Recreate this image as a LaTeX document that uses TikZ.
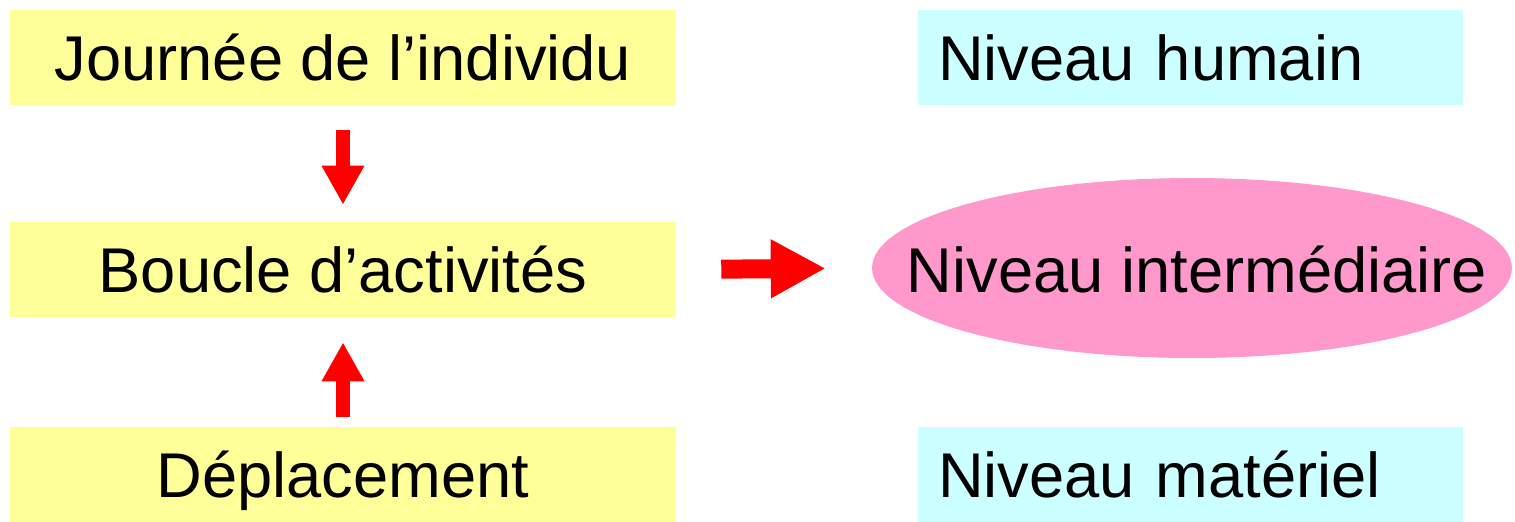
\documentclass[tikz,border=0pt]{standalone}
\usepackage{fontspec}
\setmainfont{Liberation Sans}
\usetikzlibrary{shapes.geometric,arrows.meta}
\definecolor{boxyellow}{HTML}{FFFF99}
\definecolor{boxcyan}{HTML}{CCFFFF}
\definecolor{ovalpink}{HTML}{FF99CC}
\tikzset{
  lbl/.style={font=\fontsize{36pt}{43pt}\selectfont, text height=25.8pt, text depth=0pt},
  stagebox/.style={lbl, rectangle, fill=boxyellow, inner sep=0pt,
    minimum width=13.32cm, minimum height=1.9cm},
  levelbox/.style={lbl, rectangle, fill=boxcyan, inner xsep=0.4cm, inner ysep=0pt,
    text width=10.1cm, align=left, minimum height=1.9cm},
  leveloval/.style={ellipse, fill=ovalpink, inner sep=0pt,
    minimum width=12.8cm, minimum height=3.6cm},
  vblock/.style={red, line width=0.28cm, line cap=butt,
    -{Triangle[length=0.78cm, width=0.8cm]}},
  hblock/.style={red, line width=0.38cm, line cap=butt,
    -{Triangle[length=1.1cm, width=1.1cm]}}
}
\begin{document}
\begin{tikzpicture}[x=0.02cm, y=-0.02cm]
  \useasboundingbox (0,0) rectangle (1515,521);

  % left column: the three stages
  \node[stagebox] (journee) at (343,57.5) {Journée de l’individu};
  \node[stagebox] (boucle)  at (343,269.5) {Boucle d’activités};
  \node[stagebox] (depl)    at (343,474.5) {Déplacement};

  % right column: the three levels
  \node[levelbox] (humain)   at (1190.5,57.5) {Niveau humain};
  \node[leveloval] (interm)  at (1192,268) {};
  \node[lbl, inner sep=0pt] (intermtext) at (1197,269.5) {Niveau intermédiaire};
  \node[levelbox] (materiel) at (1190.5,474.5) {Niveau matériel};

  % block arrows
  \draw[vblock, shorten <=0.5cm, shorten >=0.34cm] (journee.south) -- (boucle.north);
  \draw[vblock, shorten <=0.2cm, shorten >=0.5cm] (depl.north) -- (boucle.south);
  \draw[hblock, shorten <=0.9cm, shorten >=0.92cm] (boucle.east) -- (interm.west);
\end{tikzpicture}
\end{document}
